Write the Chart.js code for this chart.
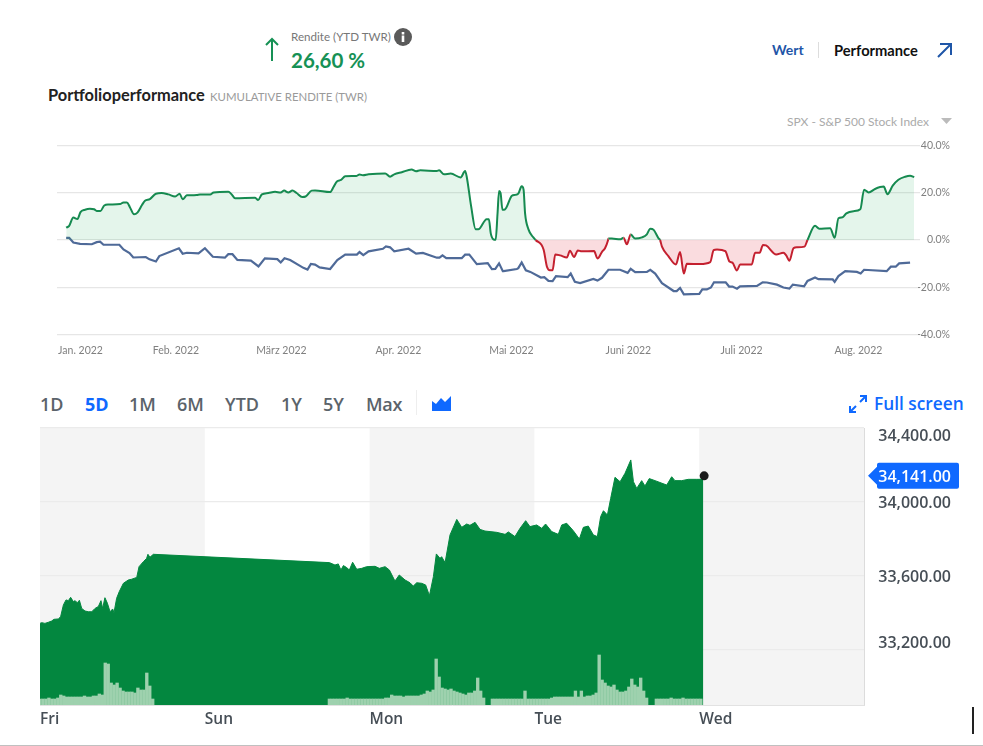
<!DOCTYPE html>
<html>
<head>
<meta charset="utf-8">
<title>Portfolioperformance</title>
<script src="https://cdn.jsdelivr.net/npm/chart.js@4/dist/chart.umd.min.js"></script>
<style>
  html, body { margin: 0; padding: 0; background: #fff; }
  body { position: relative; width: 983px; height: 746px; overflow: hidden; font-family: Lato, sans-serif; }
  canvas { position: absolute; left: 0; }
  #perfChart { top: 130px; }
  #priceChart { top: 420px; }
  .t { position: absolute; white-space: nowrap; line-height: 1; }
  .tab { font-family: "Open Sans", sans-serif; font-size: 18px; font-weight: 600; color: #5b636a; top: 395px; }
  svg { position: absolute; }
</style>
</head>
<body>
<svg style="left:262px;top:36px" width="20" height="26" viewBox="0 0 20 26"><path d="M10 25V3M4 9l6-6 6 6" fill="none" stroke="#169155" stroke-width="2"/></svg>
<span class="t" style="left:291px;top:31px;font-size:11.6px;color:#777">Rendite (YTD TWR)</span>
<svg style="left:394px;top:28px" width="18" height="18" viewBox="0 0 18 18"><circle cx="9" cy="9" r="9" fill="#5a5a5a"/><rect x="7.7" y="7.500" width="2.6" height="6.5" fill="#fff"/><rect x="7.7" y="4" width="2.6" height="2.5" fill="#fff"/></svg>
<span class="t" style="left:291px;top:50px;font-size:20.5px;font-weight:700;color:#169155">26,60 %</span>
<span class="t" style="left:48px;top:87px;font-size:16.4px;font-weight:700;color:#222">Portfolioperformance</span>
<span class="t" style="left:210px;top:91px;font-size:11.4px;color:#9a9a9a">KUMULATIVE RENDITE (TWR)</span>
<span class="t" style="left:772px;top:43px;font-size:14px;font-weight:700;color:#1f56a8">Wert</span>
<div style="position:absolute;left:818px;top:42px;width:1px;height:16px;background:#ddd"></div>
<span class="t" style="left:834px;top:43px;font-size:14.7px;font-weight:700;color:#111">Performance</span>
<svg style="left:935px;top:41px" width="18" height="18" viewBox="0 0 18 18"><path d="M3 16L15 4M5 3h11v11" fill="none" stroke="#1f56a8" stroke-width="2"/></svg>
<span class="t" style="left:787px;top:116px;font-size:12px;color:#aaa">SPX - S&amp;P 500 Stock Index</span>
<svg style="left:941px;top:118px" width="11" height="7" viewBox="0 0 11 7"><path d="M0 0h11L5.500 6z" fill="#bbb"/></svg>

<span class="t tab" style="left:40px">1D</span>
<span class="t tab" style="left:85px;color:#0f69ff;font-weight:700">5D</span>
<span class="t tab" style="left:129px">1M</span>
<span class="t tab" style="left:177px">6M</span>
<span class="t tab" style="left:225px">YTD</span>
<span class="t tab" style="left:281px">1Y</span>
<span class="t tab" style="left:323px">5Y</span>
<span class="t tab" style="left:366px;letter-spacing:-0.3px">Max</span>
<div style="position:absolute;left:416px;top:390px;width:1px;height:25px;background:#eee"></div>
<svg style="left:432px;top:396px" width="19" height="15" viewBox="0 0 19 15"><path d="M0 5l4 3 5-6 4 4 6-6v15H0z" fill="#0f69ff"/></svg>
<svg style="left:849px;top:395px" width="18" height="18" viewBox="0 0 18 18"><path d="M11 1h6v6M17 1l-6 6M1 11v6h6M1 17l6-6" fill="none" stroke="#0f69ff" stroke-width="2"/></svg>
<span class="t" style="left:874px;top:395px;font-family:'Open Sans',sans-serif;font-size:17.3px;font-weight:600;color:#0f69ff">Full screen</span>

<canvas id="perfChart" width="983" height="240" style="width:983px;height:240px"></canvas>
<canvas id="priceChart" width="983" height="326" style="width:983px;height:326px"></canvas>

<div style="position:absolute;left:972px;top:707px;width:1.5px;height:27px;background:#222"></div>
<div style="position:absolute;left:0;top:745px;width:983px;height:1px;background:#c0c0c0"></div>

<script>
// top chart, x is day of the year 2022 (0 = 1 Jan)
const monthLabels = ['Jan. 2022', 'Feb. 2022', 'März 2022', 'Apr. 2022', 'Mai 2022', 'Juni 2022', 'Juli 2022', 'Aug. 2022'];
const monthTicks = [5.7, 31, 59, 90, 120, 151, 181, 212]; // Jan label is pushed right of its real tick
const returnTicks = [-40, -20, 0, 20, 40];

const portfolioDays = [1.9,2.7,3.8,4.9,5.7,6.9,8.2,9.3,10,11,12,13.1,16.2,17.1,18,18.8,19.9,20.8,22,22.8,24.1,25.7,27.2,29,30.8,32,32.8,33.9,36.5,37.4,40.1,41,44.9,45.8,46.7,52,52.8,53.8,55.5,57.3,58.8,59.7,60.8,61.9,63,64.5,65.4,67,67.9,71.9,72.8,73.7,74.8,75.9,78.8,79.7,80.6,82.1,86.5,87.8,88.9,90.9,93.5,94.7,95.8,100.2,100.8,102.1,103.9,106.5,107.7,108.1,109.3,110.5,111.2,113.4,114,114.5,115.2,115.8,116.3,116.7,117.1,117.6,118.3,120.1,121,121.8,122.7,123.2,123.6,124.5,125.8,126.4,128.5,129.4,130.2,130.9,131.6,132.9,134.7,135.5,136.6,137.6,138.6,141.9,142.8,144,144.8,145.6,145.7,146.6,148.8,149.7,150.6,151.6,152.8,154.6,155.9,156.8,157.7,159,159.4,159.9,161.6,163.6,164.7,165.7,166.5,170,172.7,173.6,174.5,176.7,177.8,178.6,179.8,180.6,183.7,184.6,185.8,186.7,187.5,190.2,192.1,192.8,193.7,194.8,195.7,197.7,198.5,200.5,201.6,204.5,205.7,206.7,207.8,208.8,210.7,212.5,213.5,214.7,216.4,218.7,219.7,221.1,222.6,224.4,225.7,226.8];
const portfolioReturn = [5.2,6,9.5,8.9,11.8,12.8,13.2,13,12.3,12.3,14.6,15,15.2,15.9,15.9,13.9,10.9,11.6,14.8,16.6,17.3,19.6,19.9,19.3,18.4,19.6,17.2,18.9,19,19.3,19.3,20.1,20.4,19.3,17.7,17.9,16.9,19.3,19.9,20.4,20.1,20.9,20.1,20.9,19.9,18.2,18.4,20.9,21,20.3,22.4,24.8,25.4,27,27.1,27.7,27.4,27.8,28.2,26.8,27.8,28.7,29.8,29.1,29.5,29.2,29.5,27.8,28.1,26.5,29.2,27,14.2,4.5,4.5,8.8,8.8,2.8,0.3,0.1,11.3,20.7,19.9,12.8,13,18.7,19.1,19.6,22.7,21.3,11.3,4.5,1.1,0,-4,-11.3,-12.8,-12.8,-6.1,-6.5,-7.4,-4.5,-7.2,-4.4,-4.8,-4.7,-7.8,-5,-3.5,-0.1,0.6,0.6,0.3,0.9,-1.8,2.3,0.6,1.1,2.4,4.8,4.3,0.7,0,-2.8,-6.8,-10.4,-5.1,-14.2,-10.1,-10.2,-9.4,-4.3,-4,-4.7,-9.1,-9.6,-12.9,-10.4,-10.4,-5.4,-5.4,-2.1,-2.3,-6.1,-5.4,-6.4,-8.8,-3.4,-3.1,-2.8,0,6,4.8,5,0.9,9.2,9.6,11.3,12.2,13,21.3,20.1,21.6,22.6,19.4,23,25.5,26.8,27.2,26.6];

const spxDays = [1.9,2.7,3.8,5.6,8.7,10,10.9,11.8,16,17.1,18.7,19.7,23,24,25.7,26.6,31.8,32.8,33.9,37,38.7,40.8,44,44.9,46,47.3,50.9,52.9,54.6,57.9,58.8,59.8,61.3,64.8,65.9,66.8,67.9,69.1,71.9,73.8,75.9,79,79.7,80.7,82.1,85.9,86.7,87.8,88.9,92.7,94.7,96.5,100.2,100.9,101.7,102.7,106.8,107.7,108.8,109.6,110.8,113.7,114.8,115.7,116.7,117.7,117.9,121.4,121.8,122.7,123.8,125,127.8,128.7,129.8,130.9,131.8,134.9,135.7,136.8,138.2,141.7,142.8,144,145.7,148.8,150.8,151.6,152.8,155.9,156.8,158.1,159.9,163,163.8,164.7,165.7,169.8,170.6,171.8,172.9,173.7,176.8,177.7,178.6,179.8,180.6,185.1,186.6,187.7,190.4,192.1,193.7,194.6,197.6,198.5,200.5,201.4,205.2,205.7,206.7,208.5,211.6,212.6,213.5,219.5,220.6,221.9,222.8,225.7];
const spxReturn = [0.9,0.9,-1.1,-1.6,-1.8,-0.9,-0.7,-2,-2,-4,-5.5,-7.4,-7.2,-8.2,-9.1,-6.8,-3.5,-5.8,-5.4,-5.7,-3.5,-7.1,-7.5,-6,-6,-8.4,-8.7,-11.2,-7.8,-8.1,-9.5,-7.7,-8.5,-11.8,-12.5,-10.1,-10.4,-11.6,-12.3,-8.5,-6.2,-6.2,-5.1,-6.4,-4.8,-3.7,-2.7,-3.1,-4.8,-3.7,-5.8,-5.5,-7.5,-7.5,-6.5,-7.7,-7.7,-6.2,-6.2,-7.8,-10.2,-9.8,-12.3,-12.2,-9.9,-13.2,-13.2,-12.3,-11.9,-9.5,-12.8,-13.5,-15.9,-15.7,-17.3,-17.4,-15.3,-15.7,-14.2,-17.7,-18.2,-16.5,-17.2,-16,-12.6,-12.6,-13.9,-12.2,-13.6,-13.5,-12.6,-14.2,-18.3,-21.6,-21.6,-20.3,-23,-22.8,-20.9,-20.9,-20.1,-17.9,-17.9,-19.7,-19.7,-20.6,-19.6,-19.4,-17.9,-18,-18.9,-20.1,-20.6,-18.9,-19.6,-17.3,-15.9,-16.6,-16.7,-17.7,-15.3,-13.2,-13.5,-14.2,-12.6,-13.2,-11.3,-11.3,-9.9,-9.6];

// bottom chart, x counts the 164.8 px wide day bands from the left edge
const dayLabels = ['Fri', 'Sun', 'Mon', 'Tue', 'Wed'];
const dayTicks = [0, 1, 2, 3, 4];
const grayBands = [0, 2, 4];
const priceTicks = [33200, 33600, 34000, 34400];
const priceLabelShift = [-6.5, 1.5, 1.5, 8]; // the outer labels sit inside the plot height
const lastPrice = 34141;
const lastPriceDay = 4.03;

const priceDays = [0,.01,.03,.051,.071,.085,.111,.125,.142,.158,.172,.186,.202,.212,.227,.239,.253,.273,.293,.314,.334,.354,.37,.38,.394,.409,.425,.441,.449,.465,.481,.506,.536,.556,.587,.601,.627,.647,.655,.667,.688,1.756,1.79,1.81,1.826,1.841,1.861,1.877,1.897,1.922,1.952,1.982,2.033,2.059,2.094,2.12,2.154,2.18,2.215,2.245,2.265,2.286,2.316,2.34,2.363,2.387,2.405,2.427,2.437,2.458,2.488,2.529,2.559,2.589,2.609,2.64,2.67,2.7,2.771,2.822,2.842,2.882,2.913,2.947,2.973,3.014,3.044,3.068,3.105,3.145,3.166,3.196,3.236,3.273,3.297,3.327,3.358,3.382,3.402,3.419,3.443,3.463,3.489,3.52,3.55,3.585,3.601,3.621,3.651,3.671,3.697,3.732,3.803,3.833,3.853,3.894,3.934,3.985,4.025];
const priceValues = [33342,33346,33342,33348,33355,33364,33366,33378,33442,33469,33465,33483,33460,33465,33454,33467,33423,33409,33405,33405,33423,33433,33465,33423,33481,33451,33405,33420,33400,33478,33514,33559,33577,33581,33591,33649,33676,33694,33716,33700,33716,33671,33658,33664,33631,33655,33644,33631,33673,33635,33640,33649,33651,33640,33649,33631,33571,33604,33577,33562,33544,33562,33559,33550,33492,33595,33718,33694,33703,33671,33821,33905,33862,33880,33873,33889,33851,33842,33835,33824,33837,33812,33857,33898,33866,33875,33857,33880,33839,33824,33875,33884,33844,33799,33862,33869,33821,33812,33920,33952,33929,34019,34133,34109,34155,34227,34109,34073,34115,34086,34126,34115,34091,34136,34115,34115,34122,34122,34122];

// volume bars, one list per trading session, read as bar heights
const volumeStep = 0.018;
const volumeStarts = [0, 1.756, 2.745, 3.74];
const volumeFri = [6,6,6,7,6,6,7,10,9,8,8,8,8,8,8,9,8,8,9,9,11,10,42,41,22,20,22,17,14,13,13,13,12,17,15,15,32,19,6];
const volumeMon = [6,6,6,6,6,6,7,6,6,6,6,6,6,6,6,6,6,6,6,7,7,10,9,9,9,8,9,9,9,9,9,10,11,14,13,15,46,28,17,16,15,16,14,13,12,11,10,12,12,14,27,14,7];
const volumeTue = [6,6,6,6,6,6,6,6,6,6,6,14,6,6,6,6,6,6,6,6,7,8,8,8,8,8,8,8,14,8,14,8,9,9,10,12,50,25,22,19,18,20,15,13,13,14,18,26,20,18,27,14,7];
const volumeWed = [6,6,6,6,6,7,6,6,6,7,6,6,6,6,6,6];

const toPoints = (xs, ys) => xs.map((x, i) => ({ x, y: ys[i] }));

const volumePoints = [volumeFri, volumeMon, volumeTue, volumeWed].flatMap((list, s) =>
  list.map((y, i) => ({ x: volumeStarts[s] + i * volumeStep, y })));

const GREEN = '#168a50';
const RED = '#c4202f';

new Chart(document.getElementById('perfChart'), {
  type: 'line',
  data: {
    datasets: [
      {
        data: toPoints(portfolioDays, portfolioReturn),
        borderColor: GREEN,
        borderWidth: 2,
        cubicInterpolationMode: 'monotone',
        pointRadius: 0,
        fill: { target: { value: 0 }, above: 'rgba(30,170,90,0.12)', below: 'rgba(225,40,55,0.16)' },
        segment: {
          borderColor: ctx => (ctx.p0.parsed.y < 0 || ctx.p1.parsed.y < 0 ? RED : GREEN),
        },
      },
      {
        data: toPoints(spxDays, spxReturn),
        borderColor: '#4f6a98',
        borderWidth: 2.2,
        tension: 0,
        pointRadius: 0,
        fill: false,
      },
    ],
  },
  options: {
    responsive: false,
    animation: false,
    events: [],
    layout: { padding: { left: 57, right: 33, top: 15.5, bottom: 0 } },
    plugins: { legend: { display: false }, tooltip: { enabled: false } },
    scales: {
      x: {
        type: 'linear',
        min: -0.53,
        max: 227.8,
        afterBuildTicks: scale => { scale.ticks = monthTicks.map(value => ({ value })); },
        afterFit: scale => { scale.height = 35.5; },
        grid: { display: false, drawTicks: false },
        border: { display: false },
        ticks: {
          autoSkip: false,
          maxRotation: 0,
          minRotation: 0,
          padding: 10,
          color: '#808080',
          font: { family: 'Lato', size: 10.5 },
          callback: (value, i) => monthLabels[i],
        },
      },
      y: {
        position: 'right',
        min: -40,
        max: 40,
        afterBuildTicks: scale => { scale.ticks = returnTicks.map(value => ({ value })); },
        afterFit: scale => { scale.width = 32; },
        grid: { color: '#e6e6e6', lineWidth: 1.3, tickLength: 2 },
        border: { display: false },
        ticks: {
          crossAlign: 'far',
          padding: 0,
          color: '#808080',
          font: { family: 'Lato', size: 10.5 },
          callback: value => value.toFixed(1) + '%',
        },
      },
    },
  },
});

// gray day bands behind the grid, plus the price labels and the blue last price tag
const priceChartDecor = {
  id: 'priceChartDecor',
  beforeDraw(chart) {
    const { ctx, chartArea, scales } = chart;
    ctx.save();
    ctx.fillStyle = '#f4f4f4';
    grayBands.forEach(day => {
      const left = scales.x.getPixelForValue(day);
      const right = scales.x.getPixelForValue(day + 1);
      ctx.fillRect(left, chartArea.top, right - left, chartArea.bottom - chartArea.top);
    });
    ctx.restore();
  },
  afterDraw(chart) {
    const { ctx, scales } = chart;
    const format = v => v.toLocaleString('en-US', { minimumFractionDigits: 2 });
    ctx.save();
    ctx.font = '600 16px "Open Sans"';
    ctx.textBaseline = 'middle';
    ctx.textAlign = 'right';
    ctx.fillStyle = '#464e56';
    priceTicks.forEach((tick, i) => {
      ctx.fillText(format(tick), 951, scales.y.getPixelForValue(tick) + priceLabelShift[i]);
    });

    const y = scales.y.getPixelForValue(lastPrice);
    ctx.fillStyle = '#0f69ff';
    ctx.beginPath();
    ctx.moveTo(868, y);
    ctx.lineTo(877, y - 9);
    ctx.lineTo(877, y - 11);
    ctx.arcTo(877, y - 13, 879, y - 13, 2);
    ctx.lineTo(957, y - 13);
    ctx.arcTo(959, y - 13, 959, y - 11, 2);
    ctx.lineTo(959, y + 11);
    ctx.arcTo(959, y + 13, 957, y + 13, 2);
    ctx.lineTo(879, y + 13);
    ctx.arcTo(877, y + 13, 877, y + 11, 2);
    ctx.lineTo(877, y + 9);
    ctx.closePath();
    ctx.fill();
    ctx.fillStyle = '#fff';
    ctx.fillText(format(lastPrice), 951, y + 1.5);
    ctx.restore();
  },
};

new Chart(document.getElementById('priceChart'), {
  type: 'line',
  plugins: [priceChartDecor],
  data: {
    datasets: [
      {
        data: [{ x: lastPriceDay, y: lastPrice }],
        order: 0,
        showLine: false,
        pointRadius: 4.5,
        pointBackgroundColor: '#1b1b1b',
        pointBorderWidth: 0,
      },
      {
        type: 'bar',
        data: volumePoints,
        order: 1,
        yAxisID: 'volume',
        backgroundColor: '#9ed1ae',
        barThickness: 2.7,
        grouped: false,
      },
      {
        data: toPoints(priceDays, priceValues),
        order: 2,
        borderColor: '#03873f',
        borderWidth: 1,
        backgroundColor: '#03873f',
        tension: 0,
        pointRadius: 0,
        fill: 'start',
      },
    ],
  },
  options: {
    responsive: false,
    animation: false,
    events: [],
    layout: { padding: { left: 40, right: 119, top: 8, bottom: 0 } },
    plugins: { legend: { display: false }, tooltip: { enabled: false } },
    scales: {
      x: {
        type: 'linear',
        offset: false,
        min: 0,
        max: 5,
        afterBuildTicks: scale => { scale.ticks = dayTicks.map(value => ({ value })); },
        afterFit: scale => { scale.height = 41; },
        grid: { display: false, offset: false, drawTicks: false },
        border: { display: true, color: '#e2e2e2' },
        ticks: {
          autoSkip: false,
          maxRotation: 0,
          minRotation: 0,
          align: 'start',
          padding: 5,
          color: '#464e56',
          font: { family: 'Open Sans', size: 15.5, weight: '600' },
          callback: (value, i) => dayLabels[i],
        },
      },
      y: {
        position: 'right',
        min: 32900,
        max: 34400,
        afterBuildTicks: scale => { scale.ticks = priceTicks.map(value => ({ value })); },
        grid: { color: '#ebebeb', lineWidth: 1.3, drawTicks: false },
        border: { display: true, color: '#dcdcdc' },
        ticks: { display: false },
      },
      volume: { display: false, min: 0, max: 277 },
    },
  },
});
</script>
</body>
</html>
